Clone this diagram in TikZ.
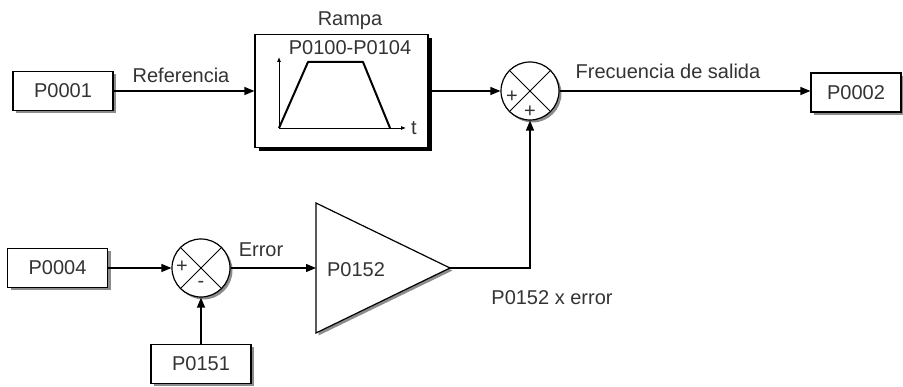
\documentclass[tikz,border=0pt]{standalone}
\usepackage{fontspec}
\setmainfont{Liberation Sans}
\usetikzlibrary{arrows.meta,shadows}
\tikzset{
  blk/.style={draw, line width=1.2pt, fill=white, minimum width=100pt, minimum height=39pt, inner sep=0pt,
    font=\fontsize{20}{24}\selectfont, text=black!80,
    drop shadow={shadow xshift=3pt, shadow yshift=-3pt, fill=black!45, opacity=1}},
  rampbox/.style={draw, line width=1.2pt, fill=white, minimum width=173pt, minimum height=113pt, inner sep=0pt,
    drop shadow={shadow xshift=4pt, shadow yshift=-4pt, fill=black, opacity=1}},
  sumnode/.style={draw, circle, line width=1.2pt, fill=white, minimum size=58pt, inner sep=0pt,
    drop shadow={shadow xshift=2.5pt, shadow yshift=-2.5pt, fill=black!45, opacity=1}},
  conn/.style={line width=1.2pt, -{Triangle[length=10pt,width=8pt]}},
  lbl/.style={anchor=base, inner sep=0pt, font=\fontsize{20}{24}\selectfont, text=black!80},
  sgn/.style={inner sep=0pt, font=\fontsize{20}{22}\selectfont, text=black!80}
}

\begin{document}
\begin{tikzpicture}[x=1pt,y=1pt]
			\useasboundingbox (0,0) rectangle (903,387);
			%%%%% TOP ROW %%%%%
			\node[blk] (p0001) at (63,296) {P0001};
			\node[rampbox] (ramp) at (341.5,296) {};
			\node[lbl] (ramplbl) at (350,361) {Rampa};
			\node[lbl] (rampset) at (350,332) {P0100-P0104};
			
			\draw[line width=0.8pt, -{Latex[length=5pt,width=4pt]}] (279,259) -- (279,330);
			\draw[line width=0.8pt, -{Latex[length=5pt,width=4pt]}] (279,259) -- (406,259);
			\node[lbl] (tlbl) at (414,252) {t};
			\draw[line width=2pt, line join=round] (279,259) -- (308,325) -- (363,325) -- (390,259);
			
			\node[sumnode] (sum1) at (530,296) {};
			\draw[line width=1pt] (sum1.north west) -- (sum1.south east);
			\draw[line width=1pt] (sum1.north east) -- (sum1.south west);
			\node[sgn] (sum1a) at (512,290) {+};
			\node[sgn] (sum1b) at (530,275) {+};
			
			\node[blk, minimum width=90pt] (p0002) at (856,294.5) {P0002};
			
			\draw[conn] (p0001) -- (ramp);
			\node[lbl] (reflbl) at (181,304) {Referencia};
			\draw[conn] (ramp) -- (sum1);
			\draw[conn] (sum1) -- (sum1 -| p0002.west);
			\node[lbl] (freclbl) at (668,308) {Frecuencia de salida};
			
			%%%%% BOTTOM ROW %%%%%
			\node[blk] (p0004) at (57.5,119) {P0004};
			\node[blk] (p0151) at (201,23) {P0151};
			
			\node[sumnode] (sum2) at (201,119) {};
			\draw[line width=1pt] (sum2.north west) -- (sum2.south east);
			\draw[line width=1pt] (sum2.north east) -- (sum2.south west);
			\node[sgn] (sum2a) at (182,120) {+};
			\node[sgn] (sum2b) at (201,103) {-};
			
			\coordinate (gin) at (316,119);
			\coordinate (gout) at (450,119);
			\draw[line width=1.2pt, line join=miter, fill=white,
			  drop shadow={shadow xshift=2.5pt, shadow yshift=-2.5pt, fill=black!45, opacity=1}]
			  (316,184) -- (gout) -- (316,54) -- cycle;
			\node[lbl] (gainlbl) at (356,110) {P0152};
			
			\draw[conn] (p0004) -- (sum2);
			\draw[conn] (p0151) -- (sum2);
			\draw[conn] (sum2) -- (gin);
			\node[lbl] (errlbl) at (261,130) {Error};
			\draw[conn] (gout) -| (sum1);
			\node[lbl] (outlbl) at (552,82) {P0152 x error};
			%%%%% END %%%%%
		\end{tikzpicture}
\end{document}
